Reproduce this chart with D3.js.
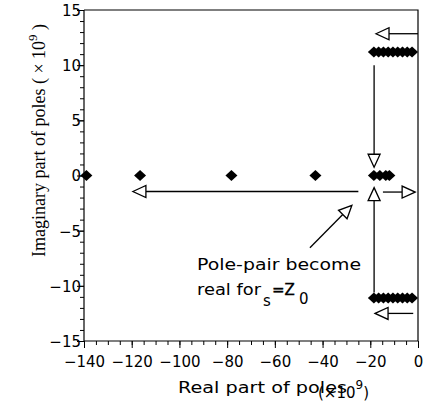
<!DOCTYPE html>
<html>
<head>
<meta charset="utf-8">
<script src="https://cdn.jsdelivr.net/npm/d3@7"></script>
<style>
  body { margin: 0; background: #fff; }
  svg { display: block; }
  .sans { font-family: "DejaVu Sans", sans-serif; font-size: 15px; fill: #000; }
  .serif { font-family: "Liberation Serif", "Times New Roman", serif; font-size: 18px; fill: #000; }
</style>
</head>
<body>
<svg id="chart" width="425" height="406"></svg>
<script>
// pole locations (units of 1e9)
const realAxisPoles = [-139, -116.5, -78.2, -43, -18.5, -16, -13.5, -12];
const upperPoles = [-18.5, -16.5, -14.5, -12.5, -10.5, -8.5, -6.5, -4.5, -2.5];
const lowerPoles = [-18.5, -16.5, -14.5, -12.5, -10.5, -8.5, -6.5, -4.5, -2.5];
const upperImag = 11.2;
const lowerImag = -11.1;

// arrows showing pole movement [x1, y1, x2, y2]
const arrows = [
  [0, 12.85, -17.6, 12.85],
  [-18.4, 10.0, -18.4, 0.75],
  [-18.4, -10.6, -18.4, -1.1],
  [-14.7, -1.5, -1.2, -1.5],
  [-25, -1.45, -119.5, -1.45],
  [-2, -12.5, -18, -12.5],
  [-45.3, -6.55, -27.7, -2.7]
];

const xTicks = [-140, -120, -100, -80, -60, -40, -20, 0];
const yTicks = [-15, -10, -5, 0, 5, 10, 15];

const svg = d3.select("#chart");
const x = d3.scaleLinear().domain([-140, 0]).range([84, 418]);
const y = d3.scaleLinear().domain([-15, 15]).range([341, 10]);

// frame (top and right)
svg.append("path")
  .attr("d", `M${x(-140)},${y(15)}H${x(0)}V${y(-15)}`)
  .attr("fill", "none").attr("stroke", "#000").attr("stroke-width", 1.2);

// x axis
const xMinor = svg.append("g").attr("transform", `translate(0,${y(-15)})`)
  .call(d3.axisBottom(x).tickValues(d3.range(-140, 1, 5)).tickSize(4).tickFormat(""));
const xMajor = svg.append("g").attr("transform", `translate(0,${y(-15)})`)
  .call(d3.axisBottom(x).tickValues(xTicks).tickSize(7).tickPadding(5));
xMajor.selectAll("text").attr("class", "sans").attr("font-size", null).attr("font-family", null)
  .attr("dy", null).attr("y", 26);

// y axis
const yMinor = svg.append("g").attr("transform", `translate(${x(-140)},0)`)
  .call(d3.axisLeft(y).tickValues(d3.range(-15, 16, 1)).tickSize(4).tickFormat(""));
const yMajor = svg.append("g").attr("transform", `translate(${x(-140)},0)`)
  .call(d3.axisLeft(y).tickValues(yTicks).tickSize(7).tickPadding(3));
yMajor.selectAll("text").attr("class", "sans").attr("font-size", null).attr("font-family", null)
  .attr("x", -3).attr("dy", "0.36em");

svg.selectAll(".domain").attr("stroke", "#000").attr("stroke-width", 1.2);
svg.selectAll(".tick line").attr("stroke", "#000");
xMinor.select(".domain").attr("d", `M${x(-140)},0H${x(0)}`);
yMinor.select(".domain").attr("d", `M0,${y(-15)}V${y(15)}`);
xMajor.select(".domain").remove();
yMajor.select(".domain").remove();

// arrows
const headLen = 13, headHalf = 6;
const ag = svg.append("g");
arrows.forEach(a => {
  const x1 = x(a[0]), y1 = y(a[1]), x2 = x(a[2]), y2 = y(a[3]);
  const dx = x2 - x1, dy = y2 - y1, len = Math.hypot(dx, dy);
  const ux = dx / len, uy = dy / len;
  const bx = x2 - ux * headLen, by = y2 - uy * headLen;
  ag.append("line").attr("x1", x1).attr("y1", y1).attr("x2", bx).attr("y2", by)
    .attr("stroke", "#000").attr("stroke-width", 1.3);
  ag.append("polygon")
    .attr("points", [[x2, y2], [bx - uy * headHalf, by + ux * headHalf], [bx + uy * headHalf, by - ux * headHalf]].map(p => p.join(",")).join(" "))
    .attr("fill", "#fff").attr("stroke", "#000").attr("stroke-width", 1.3);
});

// poles as diamonds
const diamond = (cx, cy) => `M${cx},${cy - 5.5}L${cx + 6},${cy}L${cx},${cy + 5.5}L${cx - 6},${cy}Z`;
const pg = svg.append("g");
pg.selectAll(".p0").data(realAxisPoles).join("path").attr("d", d => diamond(x(d), y(0)));
pg.selectAll(".pu").data(upperPoles).join("path").attr("class", "pu").attr("d", d => diamond(x(d), y(upperImag)));
pg.selectAll(".pl").data(lowerPoles).join("path").attr("class", "pl").attr("d", d => diamond(x(d), y(lowerImag)));
pg.selectAll("path").attr("fill", "#000");

// annotation text
const ann = svg.append("g").attr("class", "sans");
ann.append("text").attr("x", 197).attr("y", 270).attr("textLength", 164)
  .attr("lengthAdjust", "spacingAndGlyphs").text("Pole-pair become");
ann.append("text").attr("x", 197).attr("y", 295).attr("textLength", 64)
  .attr("lengthAdjust", "spacingAndGlyphs").text("real for");
ann.append("text").attr("x", 263).attr("y", 306).text("s");
ann.append("text").attr("x", 272).attr("y", 295).attr("stroke", "#000").attr("stroke-width", 0.4).text("=Z");
ann.append("text").attr("x", 299).attr("y", 304).text("0");

// x axis title
svg.append("text").attr("class", "sans").attr("x", 178).attr("y", 393)
  .attr("textLength", 169).attr("lengthAdjust", "spacingAndGlyphs").text("Real part of poles");
const xt2 = svg.append("text").attr("class", "sans").attr("x", 318).attr("y", 398);
xt2.append("tspan").text("(×10");
xt2.append("tspan").attr("font-size", 12).attr("dy", -9).text("9");
xt2.append("tspan").attr("dy", 9).text(")");

// y axis title
const yt = svg.append("text").attr("class", "serif")
  .attr("transform", `translate(45,257) rotate(-90)`);
yt.append("tspan").text("Imaginary part of poles ( × 10");
yt.append("tspan").attr("font-size", 13).attr("dy", -8).text("9");
yt.append("tspan").attr("dy", 8).text(" )");
</script>
</body>
</html>
